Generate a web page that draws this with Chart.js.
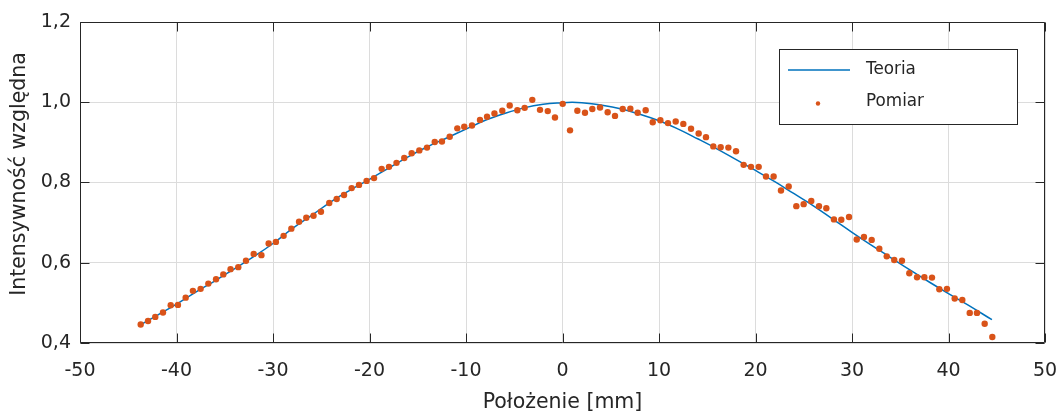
<!DOCTYPE html>
<html><head><meta charset="utf-8">
<script src="https://cdn.jsdelivr.net/npm/chart.js@4.4.0/dist/chart.umd.min.js"></script>
<style>html,body{margin:0;padding:0;background:#fff;}#wrap{width:1059px;height:412px;}</style>
</head><body><div id="wrap"><canvas id="c" width="1059" height="412"></canvas></div>
<script>
const seriesNames = ['Teoria', 'Pomiar'];
const xTitle = 'Położenie [mm]';
const yTitle = 'Intensywność względna';
const xTicks = [-50, -40, -30, -20, -10, 0, 10, 20, 30, 40, 50];
const yTicks = [0.4, 0.6, 0.8, 1.0, 1.2];

const theoryX = [-43.7,-42,-40,-38,-36,-34,-32,-30,-28,-26,-24,-22,-20,-18,-16,-14,-12,-10,-8,-6,-4,-2,0,1,2,4,6,8,10,12,14,16,18,20,22,24,26,28,30,32,34,36,38,40,42,44.5];
const theoryY = [0.446,0.469,0.497,0.527,0.555,0.585,0.615,0.648,0.685,0.718,0.752,0.781,0.808,0.836,0.864,0.889,0.911,0.933,0.955,0.972,0.986,0.995,0.999,1.000,0.999,0.993,0.984,0.970,0.954,0.933,0.909,0.884,0.857,0.830,0.802,0.772,0.742,0.709,0.676,0.644,0.613,0.582,0.552,0.523,0.495,0.458];

const measX = [-43.71,-42.95,-42.2,-41.4,-40.6,-39.85,-39.05,-38.3,-37.5,-36.7,-35.9,-35.15,-34.4,-33.6,-32.8,-32.0,-31.2,-30.45,-29.7,-28.9,-28.1,-27.3,-26.55,-25.8,-25.03,-24.17,-23.4,-22.64,-21.85,-21.09,-20.3,-19.53,-18.74,-17.98,-17.2,-16.4,-15.63,-14.84,-14.04,-13.24,-12.49,-11.69,-10.9,-10.18,-9.38,-8.55,-7.82,-7.05,-6.24,-5.47,-4.68,-3.92,-3.13,-2.33,-1.53,-0.78,0.02,0.78,1.54,2.33,3.09,3.89,4.68,5.44,6.24,7.03,7.79,8.62,9.35,10.14,10.93,11.73,12.52,13.32,14.11,14.87,15.63,16.39,17.19,17.98,18.77,19.53,20.33,21.09,21.88,22.64,23.44,24.23,24.99,25.78,26.58,27.34,28.13,28.89,29.69,30.49,31.24,32.04,32.83,33.6,34.38,35.18,35.94,36.74,37.5,38.29,39.05,39.84,40.64,41.43,42.2,42.95,43.75,44.54];
const measY = [0.446,0.455,0.465,0.476,0.494,0.495,0.513,0.530,0.535,0.548,0.559,0.571,0.584,0.589,0.605,0.622,0.619,0.648,0.652,0.667,0.685,0.702,0.712,0.717,0.727,0.749,0.759,0.769,0.786,0.794,0.804,0.811,0.834,0.839,0.849,0.861,0.873,0.880,0.887,0.901,0.902,0.914,0.935,0.939,0.942,0.956,0.964,0.972,0.979,0.992,0.980,0.986,1.006,0.981,0.978,0.962,0.996,0.930,0.979,0.974,0.983,0.987,0.975,0.966,0.983,0.984,0.974,0.980,0.950,0.955,0.948,0.952,0.946,0.934,0.922,0.913,0.890,0.888,0.887,0.878,0.844,0.839,0.839,0.815,0.815,0.780,0.790,0.741,0.746,0.754,0.741,0.736,0.708,0.707,0.714,0.658,0.664,0.657,0.635,0.616,0.607,0.605,0.574,0.564,0.564,0.563,0.534,0.535,0.511,0.507,0.475,0.475,0.448,0.415];

const BLUE = '#0072BD', ORANGE = '#D95319', AX = '#262626';
const FONT = 'DejaVu Sans';

const boxPlugin = {
  id: 'matlabBox',
  afterDatasetsDraw(chart) {
    const ctx = chart.ctx, a = chart.chartArea;
    const xs = chart.scales.x, ys = chart.scales.y;
    ctx.save();
    ctx.strokeStyle = AX; ctx.lineWidth = 1;
    const L = Math.round(a.left) + 0.5, R = Math.round(a.right) - 0.5;
    const T = Math.round(a.top) + 0.5, B = Math.round(a.bottom) - 0.5;
    ctx.beginPath();
    ctx.rect(L, T, R - L, B - T);
    const tl = 9;
    xTicks.forEach(v => {
      const px = Math.round(xs.getPixelForValue(v)) + 0.5;
      ctx.moveTo(px, B); ctx.lineTo(px, B - tl);
      ctx.moveTo(px, T); ctx.lineTo(px, T + tl);
    });
    yTicks.forEach(v => {
      const py = Math.round(ys.getPixelForValue(v)) + 0.5;
      ctx.moveTo(L, py); ctx.lineTo(L + tl, py);
      ctx.moveTo(R, py); ctx.lineTo(R - tl, py);
    });
    ctx.stroke();

    // y-axis title
    ctx.save();
    ctx.translate(20, 174);
    ctx.rotate(-Math.PI / 2);
    ctx.fillStyle = AX;
    ctx.font = '20.5px "' + FONT + '"';
    ctx.textAlign = 'center'; ctx.textBaseline = 'middle';
    ctx.fillText(yTitle, 0, 0);
    ctx.restore();

    // legend
    const lx = 779.5, ly = 49.5, lw = 238, lh = 75;
    ctx.fillStyle = '#fff';
    ctx.fillRect(lx, ly, lw, lh);
    ctx.strokeStyle = AX; ctx.lineWidth = 1;
    ctx.strokeRect(lx, ly, lw, lh);
    const ds = chart.data.datasets;
    ctx.strokeStyle = BLUE; ctx.lineWidth = 1.5;
    ctx.beginPath(); ctx.moveTo(788, 70); ctx.lineTo(850, 70); ctx.stroke();
    ctx.fillStyle = ORANGE;
    ctx.beginPath(); ctx.arc(818, 103.5, 2.2, 0, Math.PI * 2); ctx.fill();
    ctx.fillStyle = AX;
    ctx.font = '16.8px "' + FONT + '"';
    ctx.textBaseline = 'middle'; ctx.textAlign = 'left';
    ctx.fillText(ds[1].label, 866, 70);
    ctx.fillText(ds[0].label, 866, 102);
    ctx.restore();
  }
};

new Chart(document.getElementById('c'), {
  type: 'scatter',
  data: {
    datasets: [
      {
        label: seriesNames[1],
        data: measX.map((x, i) => ({ x: x, y: measY[i] })),
        backgroundColor: ORANGE, borderColor: ORANGE,
        pointRadius: 3.2, pointBorderWidth: 0, showLine: false, order: 0
      },
      {
        label: seriesNames[0],
        data: theoryX.map((x, i) => ({ x: x, y: theoryY[i] })),
        borderColor: BLUE, backgroundColor: BLUE,
        borderWidth: 1.5, pointRadius: 0, showLine: true, tension: 0.4, order: 1
      }
    ]
  },
  options: {
    responsive: false, animation: false, devicePixelRatio: 1,
    layout: { padding: { top: 22, right: 14, left: 0, bottom: 0 } },
    plugins: { legend: { display: false }, tooltip: { enabled: false } },
    scales: {
      x: {
        type: 'linear', min: -50, max: 50,
        afterBuildTicks: s => { s.ticks = xTicks.map(v => ({ value: v })); },
        afterFit: s => { s.height = 69; s.paddingLeft = 0; s.paddingRight = 0; },
        ticks: { font: { family: FONT, size: 19 }, color: AX, padding: 17, maxRotation: 0, autoSkip: false,
                 callback: v => String(v) },
        grid: { color: '#dcdcdc', lineWidth: 1, drawTicks: false },
        border: { display: false },
        title: { display: true, text: xTitle, font: { family: FONT, size: 20.5 }, color: AX, padding: { top: 0, bottom: -3 } }
      },
      y: {
        type: 'linear', min: 0.4, max: 1.2,
        afterBuildTicks: s => { s.ticks = yTicks.map(v => ({ value: v })); },
        afterFit: s => { s.width = 80; s.paddingTop = 0; s.paddingBottom = 0; },
        ticks: { font: { family: FONT, size: 19 }, color: AX, padding: 9, autoSkip: false,
                 callback: v => Number(v).toFixed(1).replace('.', ',') },
        grid: { color: '#dcdcdc', lineWidth: 1, drawTicks: false },
        border: { display: false },
        title: { display: false, text: yTitle }
      }
    }
  },
  plugins: [boxPlugin]
});
</script>
</body></html>
